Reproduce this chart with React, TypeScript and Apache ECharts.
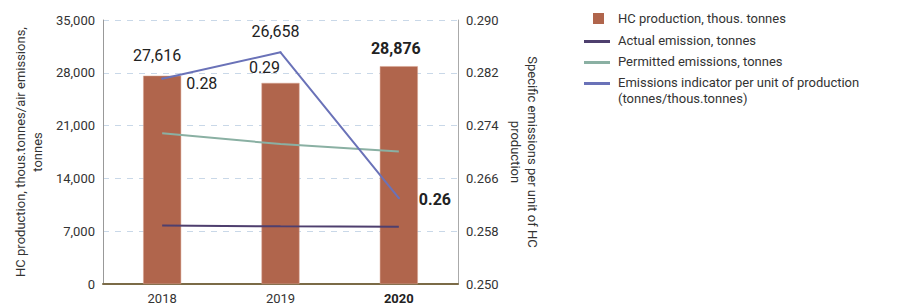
import React, { useEffect, useRef } from "react";
import * as echarts from "echarts";

const categories = ["2018", "2019", "2020"];
const production = [27616, 26658, 28876];
const actualEmission = [7750, 7650, 7600];
const permittedEmission = [20000, 18550, 17550];
const indicator = [0.2811, 0.2851, 0.263];
const leftTicks = [0, 35000, 7000];
const rightTicks = [0.25, 0.29, 0.008];
const legendNames = [
  "HC production, thous. tonnes",
  "Actual emission, tonnes",
  "Permitted emissions, tonnes",
  "Emissions indicator per unit of production",
  "(tonnes/thous.tonnes)",
];

const FONT = "Roboto, 'Noto Sans', sans-serif";
const C_BAR = "#b0654c";
const C_ACT = "#4e3f6e";
const C_PERM = "#8ab0a3";
const C_IND = "#6a72b8";

export default function App() {
  const ref = useRef<HTMLDivElement>(null);
  useEffect(() => {
    const chart = echarts.init(ref.current!, undefined, { renderer: "svg" });
    const fmt = (v: number) => v.toLocaleString("en-US");
    const barLabelOffsets = [[-5, -7], [-5, -38], [-3, -5]];
    const indLabel = [
      { position: "right", offset: [18, 5], fontWeight: "normal" },
      { position: "bottom", offset: [-16, 1], fontWeight: "normal" },
      { position: "right", offset: [14, 1], fontWeight: "bold" },
    ];
    const legendText = (i: number, y: number) => ({
      type: "text",
      left: 618,
      top: y,
      style: { text: legendNames[i], font: `13px ${FONT}`, fill: "#333" },
    });
    const legendLine = (color: string, y: number) => ({
      type: "line",
      shape: { x1: 584, y1: y, x2: 610, y2: y },
      style: { stroke: color, lineWidth: 3 },
    });
    chart.setOption({
      animation: false,
      textStyle: { fontFamily: FONT },
      grid: { left: 103, right: 442, top: 20, bottom: 23 },
      xAxis: {
        type: "category",
        data: categories,
        axisLine: { lineStyle: { color: "#7b6b47", width: 2 } },
        axisTick: { show: false },
        axisLabel: {
          color: "#333",
          fontSize: 13,
          margin: 8,
          formatter: (v: string) => (v === "2020" ? `{b|${v}}` : v),
          rich: { b: { fontWeight: "bold", fontSize: 13, color: "#222" } },
        },
      },
      yAxis: [
        {
          type: "value",
          min: leftTicks[0],
          max: leftTicks[1],
          interval: leftTicks[2],
          name: "HC production, thous.tonnes/air emissions,\ntonnes",
          nameLocation: "middle",
          nameGap: 57,
          nameTextStyle: { fontSize: 13, color: "#333", lineHeight: 17 },
          axisLine: { show: true, lineStyle: { color: "#999" } },
          axisTick: { show: false },
          axisLabel: { color: "#333", fontSize: 13, formatter: (v: number) => fmt(v) },
          splitLine: { lineStyle: { color: "#c9d8e8", type: [6, 6] } },
        },
        {
          type: "value",
          min: rightTicks[0],
          max: rightTicks[1],
          interval: rightTicks[2],
          name: "Specific emissions per unit of HC\nproduction",
          nameLocation: "middle",
          nameRotate: -90,
          nameGap: 49,
          nameTextStyle: { fontSize: 13, color: "#333", lineHeight: 17 },
          axisLine: { show: true, lineStyle: { color: "#aaa" } },
          axisTick: { show: false },
          axisLabel: { color: "#333", fontSize: 13, formatter: (v: number) => v.toFixed(3) },
          splitLine: { show: false },
        },
      ],
      series: [
        {
          name: legendNames[0],
          type: "bar",
          barWidth: 38,
          itemStyle: { color: C_BAR, borderColor: "#d9a590", borderWidth: 0.5 },
          data: production.map((v, i) => ({
            value: v,
            label: {
              show: true,
              position: "top",
              offset: barLabelOffsets[i],
              fontSize: 16,
              color: "#222",
              fontWeight: i === 2 ? "bold" : "normal",
              formatter: () => fmt(v),
            },
          })),
        },
        {
          name: legendNames[1],
          type: "line",
          symbol: "none",
          lineStyle: { color: C_ACT, width: 2 },
          itemStyle: { color: C_ACT },
          data: actualEmission,
        },
        {
          name: legendNames[2],
          type: "line",
          symbol: "none",
          lineStyle: { color: C_PERM, width: 2 },
          itemStyle: { color: C_PERM },
          data: permittedEmission,
        },
        {
          name: legendNames[3],
          type: "line",
          yAxisIndex: 1,
          symbol: "circle",
          symbolSize: 2,
          showSymbol: true,
          lineStyle: { color: C_IND, width: 2 },
          itemStyle: { color: C_IND },
          data: indicator.map((v, i) => ({
            value: v,
            label: {
              show: true,
              position: indLabel[i].position,
              offset: indLabel[i].offset,
              fontSize: 16,
              color: "#222",
              fontWeight: indLabel[i].fontWeight,
              formatter: () => v.toFixed(2),
            },
          })),
        },
      ],
      graphic: [
        { type: "rect", shape: { x: 593, y: 13, width: 11, height: 11 }, style: { fill: C_BAR } },
        legendText(0, 12),
        legendLine(C_ACT, 41.5),
        legendText(1, 34),
        legendLine(C_PERM, 62.5),
        legendText(2, 55),
        legendLine(C_IND, 83.5),
        legendText(3, 76),
        legendText(4, 92),
      ],
    });
    return () => chart.dispose();
  }, []);
  return (
    <div
      ref={ref}
      style={{ position: "absolute", left: 0, top: 0, width: 900, height: 307 }}
    />
  );
}
